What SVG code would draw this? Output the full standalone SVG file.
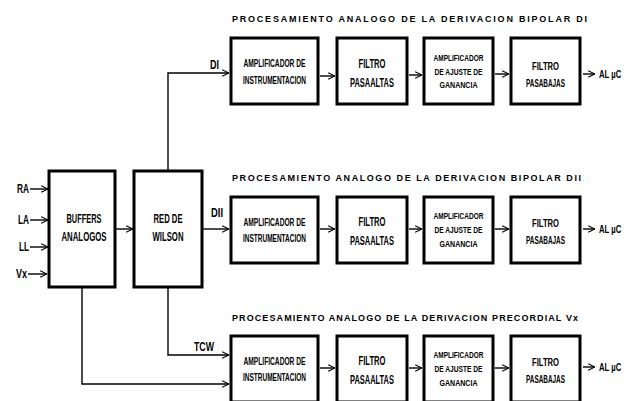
<svg xmlns="http://www.w3.org/2000/svg" width="626" height="401" viewBox="0 0 626 401">
<defs>
<marker id="ah" viewBox="0 0 10 10" refX="9.5" refY="5" markerWidth="8" markerHeight="10" markerUnits="userSpaceOnUse" orient="auto">
<path d="M1,0.8 L9.5,5 L1,9.2" fill="none" stroke="#000" stroke-width="1.4"/>
</marker>
<style>
.box{fill:#fff;stroke:#000;stroke-width:3}
.ln{fill:none;stroke:#000;stroke-width:1.4}
.ar{fill:none;stroke:#000;stroke-width:1.4;marker-end:url(#ah)}
text{font-family:"Liberation Sans Narrow","Liberation Sans",Arial,sans-serif;font-weight:bold;fill:#000}
.c{text-anchor:middle}
.t{font-size:9px}
.s10{font-size:10px}
.s12{font-size:12px}
.s95{font-size:9.5px}
.s11{font-size:11px}
</style>
</defs>
<rect width="626" height="401" fill="#fff"/>

<g id="connectors">
<path class="ar" d="M30,189 H48"/>
<path class="ar" d="M30,220 H48"/>
<path class="ar" d="M30,247 H48"/>
<path class="ar" d="M28,274 H47"/>
<path class="ar" d="M115,229 H133"/>
<path class="ar" d="M168,171 V73 H229"/>
<path class="ar" d="M202,229 H229"/>
<path class="ar" d="M168,287 V355 H229"/>
<path class="ar" d="M82,287 V384 H229"/>
<path class="ar" d="M320,76 H335"/>
<path class="ar" d="M409,75 H422"/>
<path class="ar" d="M495,74 H509"/>
<path class="ar" d="M583,74 H595"/>
<path class="ar" d="M320,229 H335"/>
<path class="ar" d="M409,229 H422"/>
<path class="ar" d="M495,229 H509"/>
<path class="ar" d="M583,229 H595"/>
<path class="ar" d="M320,368 H335"/>
<path class="ar" d="M409,368 H422"/>
<path class="ar" d="M495,368 H509"/>
<path class="ar" d="M583,367 H595"/>
</g>

<g id="labels">
<text class="s12" x="17" y="193" textLength="12" lengthAdjust="spacingAndGlyphs">RA</text>
<text class="s12" x="18" y="224" textLength="11" lengthAdjust="spacingAndGlyphs">LA</text>
<text class="s12" x="19" y="251" textLength="10" lengthAdjust="spacingAndGlyphs">LL</text>
<text class="s12" x="16" y="278" textLength="11" lengthAdjust="spacingAndGlyphs">Vx</text>
<text class="s12" x="210" y="69" textLength="9" lengthAdjust="spacingAndGlyphs">DI</text>
<text class="s12" x="211" y="217" textLength="12" lengthAdjust="spacingAndGlyphs">DII</text>
<text class="s12" x="194" y="351" textLength="20" lengthAdjust="spacingAndGlyphs">TCW</text>
<text class="s11" transform="translate(599,78) scale(0.7,1)">AL µC</text>
<text class="s11" transform="translate(599,233) scale(0.7,1)">AL µC</text>
<text class="s11" transform="translate(599,371) scale(0.7,1)">AL µC</text>
<text class="t" x="232" y="22" textLength="355" lengthAdjust="spacing">PROCESAMIENTO  ANALOGO  DE LA DERIVACION BIPOLAR  DI</text>
<text class="t" x="232" y="181" textLength="349" lengthAdjust="spacing">PROCESAMIENTO  ANALOGO  DE LA DERIVACION BIPOLAR  DII</text>
<text class="t" x="232" y="321" textLength="346" lengthAdjust="spacing">PROCESAMIENTO  ANALOGO  DE LA DERIVACION PRECORDIAL  Vx</text>
</g>

<g id="buffers">
<rect class="box" x="49" y="171" width="66" height="116"/>
<text class="s12 c" x="84" y="223" textLength="35" lengthAdjust="spacingAndGlyphs">BUFFERS</text>
<text class="s12 c" x="84" y="241" textLength="45" lengthAdjust="spacingAndGlyphs">ANALOGOS</text>
</g>
<g id="wilson">
<rect class="box" x="134" y="171" width="68" height="116"/>
<text class="s12 c" x="168" y="223" textLength="29" lengthAdjust="spacingAndGlyphs">RED DE</text>
<text class="s12 c" x="168" y="241" textLength="31" lengthAdjust="spacingAndGlyphs">WILSON</text>
</g>

<g id="amp1">
<rect class="box" x="231" y="38" width="87" height="66"/>
<text class="s10 c" x="274.5" y="67" textLength="62" lengthAdjust="spacingAndGlyphs">AMPLIFICADOR DE</text>
<text class="s10 c" x="274.5" y="84" textLength="63" lengthAdjust="spacingAndGlyphs">INSTRUMENTACION</text>
</g>
<g id="hp1">
<rect class="box" x="337" y="38" width="70" height="66"/>
<text class="s12 c" x="372" y="68" textLength="27" lengthAdjust="spacingAndGlyphs">FILTRO</text>
<text class="s12 c" x="372" y="87" textLength="44" lengthAdjust="spacingAndGlyphs">PASAALTAS</text>
</g>
<g id="gain1">
<rect class="box" x="424" y="38" width="69" height="66"/>
<text class="s95 c" x="458.5" y="61" textLength="50" lengthAdjust="spacingAndGlyphs">AMPLIFICADOR</text>
<text class="s95 c" x="458.5" y="75" textLength="48" lengthAdjust="spacingAndGlyphs">DE AJUSTE DE</text>
<text class="s95 c" x="458.5" y="88" textLength="38" lengthAdjust="spacingAndGlyphs">GANANCIA</text>
</g>
<g id="lp1">
<rect class="box" x="511" y="38" width="69" height="66"/>
<text class="s10 c" x="545.5" y="70" textLength="27" lengthAdjust="spacingAndGlyphs">FILTRO</text>
<text class="s10 c" x="545.5" y="87" textLength="39" lengthAdjust="spacingAndGlyphs">PASABAJAS</text>
</g>

<g id="amp2">
<rect class="box" x="231" y="197" width="87" height="66"/>
<text class="s10 c" x="274.5" y="226" textLength="62" lengthAdjust="spacingAndGlyphs">AMPLIFICADOR DE</text>
<text class="s10 c" x="274.5" y="242" textLength="63" lengthAdjust="spacingAndGlyphs">INSTRUMENTACION</text>
</g>
<g id="hp2">
<rect class="box" x="337" y="197" width="70" height="66"/>
<text class="s12 c" x="372" y="226" textLength="27" lengthAdjust="spacingAndGlyphs">FILTRO</text>
<text class="s12 c" x="372" y="245" textLength="44" lengthAdjust="spacingAndGlyphs">PASAALTAS</text>
</g>
<g id="gain2">
<rect class="box" x="424" y="197" width="69" height="66"/>
<text class="s95 c" x="458.5" y="219" textLength="50" lengthAdjust="spacingAndGlyphs">AMPLIFICADOR</text>
<text class="s95 c" x="458.5" y="233" textLength="48" lengthAdjust="spacingAndGlyphs">DE AJUSTE DE</text>
<text class="s95 c" x="458.5" y="247" textLength="38" lengthAdjust="spacingAndGlyphs">GANANCIA</text>
</g>
<g id="lp2">
<rect class="box" x="511" y="197" width="69" height="66"/>
<text class="s10 c" x="545.5" y="227" textLength="27" lengthAdjust="spacingAndGlyphs">FILTRO</text>
<text class="s10 c" x="545.5" y="244" textLength="39" lengthAdjust="spacingAndGlyphs">PASABAJAS</text>
</g>

<g id="amp3">
<rect class="box" x="231" y="336" width="87" height="66"/>
<text class="s10 c" x="274.5" y="365" textLength="62" lengthAdjust="spacingAndGlyphs">AMPLIFICADOR DE</text>
<text class="s10 c" x="274.5" y="381" textLength="63" lengthAdjust="spacingAndGlyphs">INSTRUMENTACION</text>
</g>
<g id="hp3">
<rect class="box" x="337" y="336" width="70" height="66"/>
<text class="s12 c" x="372" y="365" textLength="27" lengthAdjust="spacingAndGlyphs">FILTRO</text>
<text class="s12 c" x="372" y="384" textLength="44" lengthAdjust="spacingAndGlyphs">PASAALTAS</text>
</g>
<g id="gain3">
<rect class="box" x="424" y="336" width="69" height="66"/>
<text class="s95 c" x="458.5" y="358" textLength="50" lengthAdjust="spacingAndGlyphs">AMPLIFICADOR</text>
<text class="s95 c" x="458.5" y="372" textLength="48" lengthAdjust="spacingAndGlyphs">DE AJUSTE DE</text>
<text class="s95 c" x="458.5" y="386" textLength="38" lengthAdjust="spacingAndGlyphs">GANANCIA</text>
</g>
<g id="lp3">
<rect class="box" x="511" y="336" width="69" height="66"/>
<text class="s10 c" x="545.5" y="366" textLength="27" lengthAdjust="spacingAndGlyphs">FILTRO</text>
<text class="s10 c" x="545.5" y="383" textLength="39" lengthAdjust="spacingAndGlyphs">PASABAJAS</text>
</g>
</svg>
